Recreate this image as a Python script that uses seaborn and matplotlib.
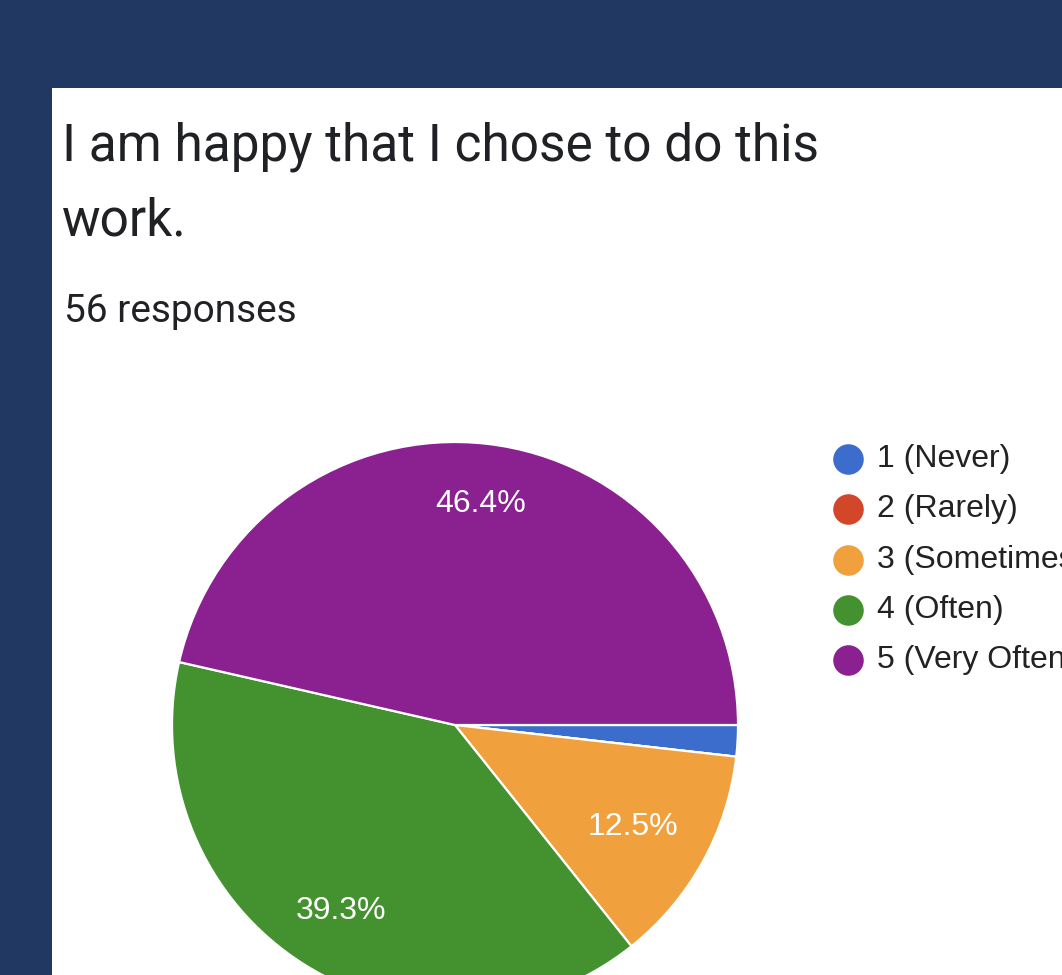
import matplotlib
matplotlib.use("Agg")
import matplotlib.pyplot as plt
from matplotlib.patches import Rectangle
from matplotlib.lines import Line2D
import numpy as np
import seaborn as sns

# Survey results
question_lines = ["I am happy that I chose to do this", "work."]
response_note = "56 responses"
categories = ["1 (Never)", "2 (Rarely)", "3 (Sometimes)", "4 (Often)", "5 (Very Often)"]
counts = [1, 0, 7, 22, 26]
slice_colors = ["#3c6ccc", "#d2462a", "#f0a03c", "#43922f", "#8b2090"]

sns.set_theme(style="white")
plt.rcParams["font.family"] = ["Liberation Sans", "DejaVu Sans"]

W, H = 1062, 975
fig = plt.figure(figsize=(W / 100, H / 100), dpi=100)
fig.patch.set_facecolor("#203862")


def fx(px):
    return px / W


def fy(py):
    return 1 - py / H


# White card
fig.add_artist(Rectangle((fx(52), 0), 1 - fx(52), fy(88), transform=fig.transFigure,
                         facecolor="white", edgecolor="none", zorder=0))

# Heading
head_font = ["Roboto", "DejaVu Sans"]
fig.text(fx(62), fy(160), question_lines[0], fontsize=37, color="#202124",
         family=head_font, va="baseline")
fig.text(fx(62), fy(235), question_lines[1], fontsize=37, color="#202124",
         family=head_font, va="baseline")
fig.text(fx(64), fy(322), response_note, fontsize=28, color="#202124",
         family=head_font, va="baseline")

# Pie axes: centre (455, 725), radius 283 px
cx, cy, r = 455, 725, 283
ax = fig.add_axes([fx(cx - r), fy(cy + r), 2 * r / W, 2 * r / H])

wedges, _, autotexts = ax.pie(
    counts, colors=slice_colors, startangle=0, counterclock=False, radius=1,
    autopct=lambda p: f"{p:.1f}%" if p >= 5 else "",
    pctdistance=0.76,
    wedgeprops=dict(edgecolor="white", linewidth=1.6),
    textprops=dict(color="white", fontsize=23),
)
ax.set_xlim(-1, 1)
ax.set_ylim(-1, 1)
ax.set_aspect("equal")
ax.axis("off")

# Per-slice label distances from the centre
label_dist = [0.76, 0.76, 0.72, 0.76, 0.80]
for w, t, d in zip(wedges, autotexts, label_dist):
    mid = np.deg2rad((w.theta1 + w.theta2) / 2)
    t.set_position((d * np.cos(mid), d * np.sin(mid)))
    t.set_ha("center")
    t.set_va("center_baseline")

# Legend with round swatches
for i, (lab, col) in enumerate(zip(categories, slice_colors)):
    ypx = 459 + 50.3 * i
    fig.add_artist(Line2D([fx(848)], [fy(ypx)], marker="o", markersize=22,
                          markerfacecolor=col, markeredgewidth=0, linestyle="",
                          transform=fig.transFigure))
    fig.text(fx(877), fy(ypx), lab, fontsize=23, color="#222222",
             va="center", ha="left")

fig.savefig("out.png", dpi=100, facecolor=fig.get_facecolor())
